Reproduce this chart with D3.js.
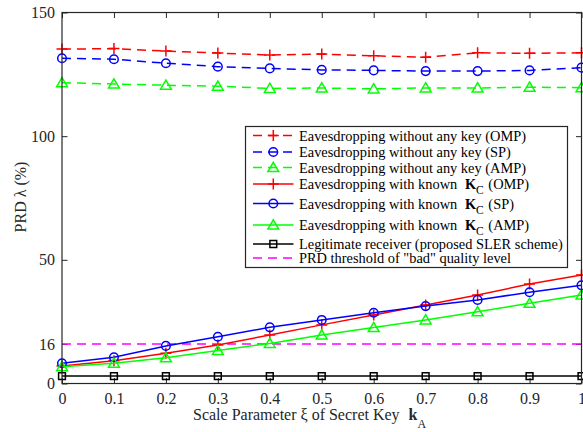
<!DOCTYPE html>
<html>
<head>
<meta charset="utf-8">
<script src="https://cdn.jsdelivr.net/npm/d3@7"></script>
<style>
  html, body { margin: 0; padding: 0; background: #fff; }
  svg { display: block; }
</style>
</head>
<body>
<svg id="chart" width="583" height="432"></svg>
<script>
// Scale parameter of the secret key
const xi = [0, 0.1, 0.2, 0.3, 0.4, 0.5, 0.6, 0.7, 0.8, 0.9, 1];

// PRD (%) — eavesdropper without any key
const noKeyOMP = [135.2, 135.4, 134.4, 133.6, 132.8, 133.2, 132.5, 131.9, 133.7, 133.5, 133.7];
const noKeySP  = [131.5, 131.1, 129.5, 128.1, 127.4, 126.8, 126.6, 126.3, 126.3, 126.6, 127.7];
const noKeyAMP = [121.6, 121.1, 120.6, 120.2, 119.3, 119.5, 119.1, 119.5, 119.5, 119.8, 119.6];

// PRD (%) — eavesdropper with known K_C
const kcOMP = [7.1, 9.2, 12.2, 15.6, 19.6, 23.7, 27.7, 31.7, 35.8, 40.2, 43.9];
const kcSP  = [8.2, 10.6, 15.2, 18.9, 22.7, 25.7, 28.6, 31.3, 33.8, 36.9, 39.7];
const kcAMP = [6.8, 8.2, 10.4, 13.3, 16.2, 19.6, 22.6, 25.7, 29.0, 32.4, 35.8];

// PRD (%) — legitimate receiver (proposed SLER scheme)
const legit = [3.0, 3.0, 3.0, 3.0, 3.0, 3.0, 3.0, 3.0, 3.0, 3.0, 3.0];

// "bad" quality threshold
const threshold = 16;

// Axis ticks
const xTicks = [0, 0.1, 0.2, 0.3, 0.4, 0.5, 0.6, 0.7, 0.8, 0.9, 1];
const xTickLabels = ["0", "0.1", "0.2", "0.3", "0.4", "0.5", "0.6", "0.7", "0.8", "0.9", "1"];
const yTicks = [0, 16, 50, 100, 150];

const series = [
  { values: noKeyOMP, color: "#ff0000", dashed: true,  marker: "plus",
    label: [{ t: "Eavesdropping without any key (OMP)" }] },
  { values: noKeySP,  color: "#0000ff", dashed: true,  marker: "circle",
    label: [{ t: "Eavesdropping without any key (SP)" }] },
  { values: noKeyAMP, color: "#00ff00", dashed: true,  marker: "triangle",
    label: [{ t: "Eavesdropping without any key (AMP)" }] },
  { values: kcOMP,    color: "#ff0000", dashed: false, marker: "plus",
    label: [{ t: "Eavesdropping with known " }, { t: "K", bold: true, dx: 4 }, { t: "C", sub: true }, { t: " (OMP)", dx: 1 }] },
  { values: kcSP,     color: "#0000ff", dashed: false, marker: "circle",
    label: [{ t: "Eavesdropping with known " }, { t: "K", bold: true, dx: 4 }, { t: "C", sub: true }, { t: " (SP)", dx: 1 }] },
  { values: kcAMP,    color: "#00ff00", dashed: false, marker: "triangle",
    label: [{ t: "Eavesdropping with known " }, { t: "K", bold: true, dx: 4 }, { t: "C", sub: true }, { t: " (AMP)", dx: 1 }] },
  { values: legit,    color: "#000000", dashed: false, marker: "square",
    label: [{ t: "Legitimate receiver (proposed SLER scheme)" }] }
];

const serif = "'Liberation Serif', 'Times New Roman', Times, serif";
const ink = "#262626";
const dash = "9,6";
const svg = d3.select("#chart");

const plot = { left: 62, right: 581.5, top: 12.5, bottom: 383.5 };
const x = d3.scaleLinear().domain([0, 1]).range([plot.left, plot.right]);
const y = d3.scaleLinear().domain([0, 150]).range([plot.bottom, plot.top]);

// Marker shapes, drawn around (0,0)
function markerPath(type) {
  switch (type) {
    case "plus": return "M-5.5,0H5.5M0,-5.5V5.5";
    case "triangle": return "M0,-5.2L5.4,4L-5.4,4Z";
    case "square": return "M-3.4,-3.4H3.4V3.4H-3.4Z";
  }
}
function drawMarker(g, type, color, cx, cy) {
  if (type === "circle") {
    g.append("circle").attr("cx", cx).attr("cy", cy).attr("r", 4.3)
      .attr("fill", "none").attr("stroke", color).attr("stroke-width", 1.5);
  } else {
    g.append("path").attr("d", markerPath(type))
      .attr("transform", `translate(${cx},${cy})`)
      .attr("fill", "none").attr("stroke", color).attr("stroke-width", 1.5);
  }
}

// Axes (ticks point inward, boxed axes)
const fontSize = 16;
const gx = svg.append("g").attr("transform", `translate(0,${plot.bottom})`)
  .call(d3.axisBottom(x).tickValues(xTicks).tickFormat((d, i) => xTickLabels[i])
    .tickSizeInner(-5.5).tickSizeOuter(0).tickPadding(9));
const gxTop = svg.append("g").attr("transform", `translate(0,${plot.top})`)
  .call(d3.axisTop(x).tickValues(xTicks).tickFormat("").tickSizeInner(-5.5).tickSizeOuter(0));
const gy = svg.append("g").attr("transform", `translate(${plot.left},0)`)
  .call(d3.axisLeft(y).tickValues(yTicks).tickFormat(d3.format("d"))
    .tickSizeInner(-5.5).tickSizeOuter(0).tickPadding(7));
const gyRight = svg.append("g").attr("transform", `translate(${plot.right},0)`)
  .call(d3.axisRight(y).tickValues(yTicks).tickFormat("").tickSizeInner(-5.5).tickSizeOuter(0));

[gx, gxTop, gy, gyRight].forEach(g => {
  g.select(".domain").remove();
  g.selectAll(".tick line").attr("stroke", ink).attr("stroke-width", 1);
  g.selectAll(".tick text").attr("fill", ink)
    .style("font-family", serif)
    .style("font-size", fontSize + "px");
});

// Data lines & markers
const line = d3.line().x((d, i) => x(xi[i])).y(d => y(d));
const dataG = svg.append("g");

// threshold
dataG.append("line")
  .attr("x1", x(0)).attr("x2", x(1)).attr("y1", y(threshold)).attr("y2", y(threshold))
  .attr("stroke", "#ff00ff").attr("stroke-width", 1.5).attr("stroke-dasharray", dash);

series.forEach(s => {
  dataG.append("path").datum(s.values).attr("d", line)
    .attr("fill", "none").attr("stroke", s.color).attr("stroke-width", 1.5)
    .attr("stroke-dasharray", s.dashed ? dash : null);
  s.values.forEach((v, i) => drawMarker(dataG, s.marker, s.color, x(xi[i]), y(v)));
});

// Plot frame
svg.append("rect")
  .attr("x", plot.left).attr("y", plot.top)
  .attr("width", plot.right - plot.left).attr("height", plot.bottom - plot.top)
  .attr("fill", "none").attr("stroke", ink).attr("stroke-width", 1.2);

// Axis titles
const xTitle = svg.append("text")
  .attr("x", 193).attr("y", 420)
  .attr("fill", ink).style("font-family", serif).style("font-size", fontSize + "px");
xTitle.append("tspan").text("Scale Parameter ξ of Secret Key ");
xTitle.append("tspan").attr("dx", 5).attr("font-weight", "bold").text("k");
xTitle.append("tspan").attr("dy", 8).style("font-size", "12px").text("A");

svg.append("text")
  .attr("transform", "translate(26,197) rotate(-90)")
  .attr("text-anchor", "middle")
  .attr("fill", ink).style("font-family", serif).style("font-size", fontSize + "px")
  .text("PRD λ (%)");

// Legend
const legendBox = { x: 245.5, y: 126.5, w: 322, h: 141 };
const legendRowY = [135.5, 152, 167.5, 184, 203.5, 225, 244, 258];
const lg = svg.append("g");
lg.append("rect")
  .attr("x", legendBox.x).attr("y", legendBox.y)
  .attr("width", legendBox.w).attr("height", legendBox.h)
  .attr("fill", "#fff").attr("stroke", ink).attr("stroke-width", 1.2);

const legendItems = series.concat([{ color: "#ff00ff", dashed: true, marker: null,
  label: [{ t: "PRD threshold of \"bad\" quality level" }] }]);

const lx0 = 253, lx1 = 293.5, lmx = 273.3, ltx = 299;
legendItems.forEach((s, i) => {
  const ly = legendRowY[i];
  lg.append("line").attr("x1", lx0).attr("x2", lx1).attr("y1", ly).attr("y2", ly)
    .attr("stroke", s.color).attr("stroke-width", 1.5)
    .attr("stroke-dasharray", s.dashed ? dash : null);
  if (s.marker) drawMarker(lg, s.marker, s.color, lmx, ly);
  const t = lg.append("text").attr("x", ltx).attr("y", ly + 5)
    .attr("fill", "#000").style("font-family", serif).style("font-size", "14.4px")
    .style("white-space", "pre");
  let sub = false;
  s.label.forEach(p => {
    const ts = t.append("tspan").text(p.t);
    if (p.bold) ts.attr("font-weight", "bold");
    if (p.dx) ts.attr("dx", p.dx);
    if (p.sub) { ts.attr("dy", 5).style("font-size", "11.5px"); sub = true; }
    else if (sub) { ts.attr("dy", -5); sub = false; }
  });
});
</script>
</body>
</html>
